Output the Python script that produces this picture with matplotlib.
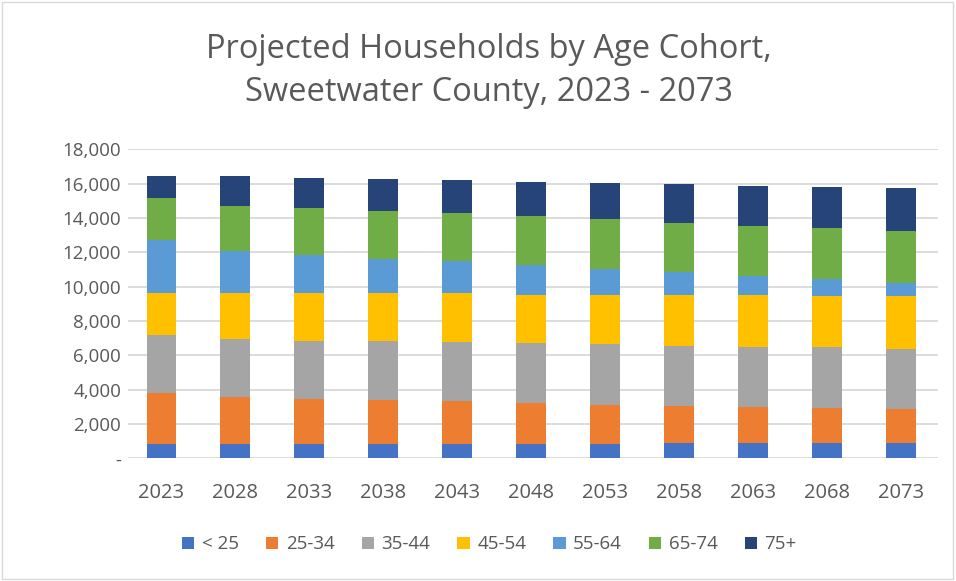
import numpy as np
import matplotlib.pyplot as plt
from matplotlib.patches import Rectangle

plt.rcParams['font.family'] = ['Open Sans', 'DejaVu Sans']

years = ['2023', '2028', '2033', '2038', '2043', '2048', '2053', '2058', '2063', '2068', '2073']
cohorts = ['< 25', '25-34', '35-44', '45-54', '55-64', '65-74', '75+']

# households per cohort, bottom to top of each stack
under_25 = [816, 816, 816, 816, 816, 816, 816, 893, 893, 893, 893]
age_25_34 = [2971, 2738, 2621, 2563, 2505, 2388, 2311, 2175, 2078, 2020, 1962]
age_35_44 = [3398, 3398, 3418, 3476, 3476, 3515, 3515, 3496, 3496, 3554, 3534]
age_45_54 = [2428, 2661, 2758, 2758, 2816, 2797, 2874, 2952, 3049, 2971, 3049]
age_55_64 = [3087, 2466, 2214, 1981, 1864, 1728, 1495, 1320, 1087, 1010, 758]
age_65_74 = [2486, 2641, 2738, 2816, 2797, 2855, 2933, 2875, 2952, 2952, 3048]
age_75_up = [1264, 1730, 1786, 1864, 1922, 2020, 2097, 2252, 2331, 2408, 2486]

series = [under_25, age_25_34, age_35_44, age_45_54, age_55_64, age_65_74, age_75_up]
colors = ['#4472C4', '#ED7D31', '#A5A5A5', '#FFC000', '#5B9BD5', '#70AD47', '#264478']

txt = '#595959'

fig = plt.figure(figsize=(9.56, 5.81), dpi=100)
ax = fig.add_axes([0.1339, 0.2112, 0.8473, 0.5318])

x = np.arange(len(years))
bottom = np.zeros(len(years))
for vals, name, c in zip(series, cohorts, colors):
    ax.bar(x, vals, 0.4, bottom=bottom, color=c, label=name, zorder=3)
    bottom += np.array(vals)

ax.set_xlim(-0.45, len(years) - 0.5)
ax.set_ylim(0, 18000)
ax.set_yticks(np.arange(0, 18001, 2000))
ax.set_yticklabels(['-'] + [f'{v:,}' for v in range(2000, 18001, 2000)])
ax.set_xticks(x)
ax.set_xticklabels(years)
ax.grid(axis='y', color='#D9D9D9', linewidth=1.3, zorder=0)
for s in ax.spines.values():
    s.set_visible(False)
ax.tick_params(length=0, colors=txt)
ax.tick_params(axis='y', pad=5, labelsize=13.5)
ax.tick_params(axis='x', pad=18, labelsize=14.5)

fig.text(0.511, 0.877, 'Projected Households by Age Cohort,\nSweetwater County, 2023 - 2073',
         ha='center', va='center', fontsize=23.5, color=txt, linespacing=1.4)

leg = fig.legend(loc='center', bbox_to_anchor=(0.512, 0.063), ncol=7, frameon=False,
                 fontsize=13.5, handlelength=0.65, handleheight=0.65, handletextpad=0.4,
                 columnspacing=1.45)
for t in leg.get_texts():
    t.set_color(txt)

# outer chart border
fig.patches.append(Rectangle((0.002, 0.003), 0.995, 0.994, transform=fig.transFigure,
                             fill=False, edgecolor='#D9D9D9', linewidth=1))

fig.savefig('out.png', dpi=100)
